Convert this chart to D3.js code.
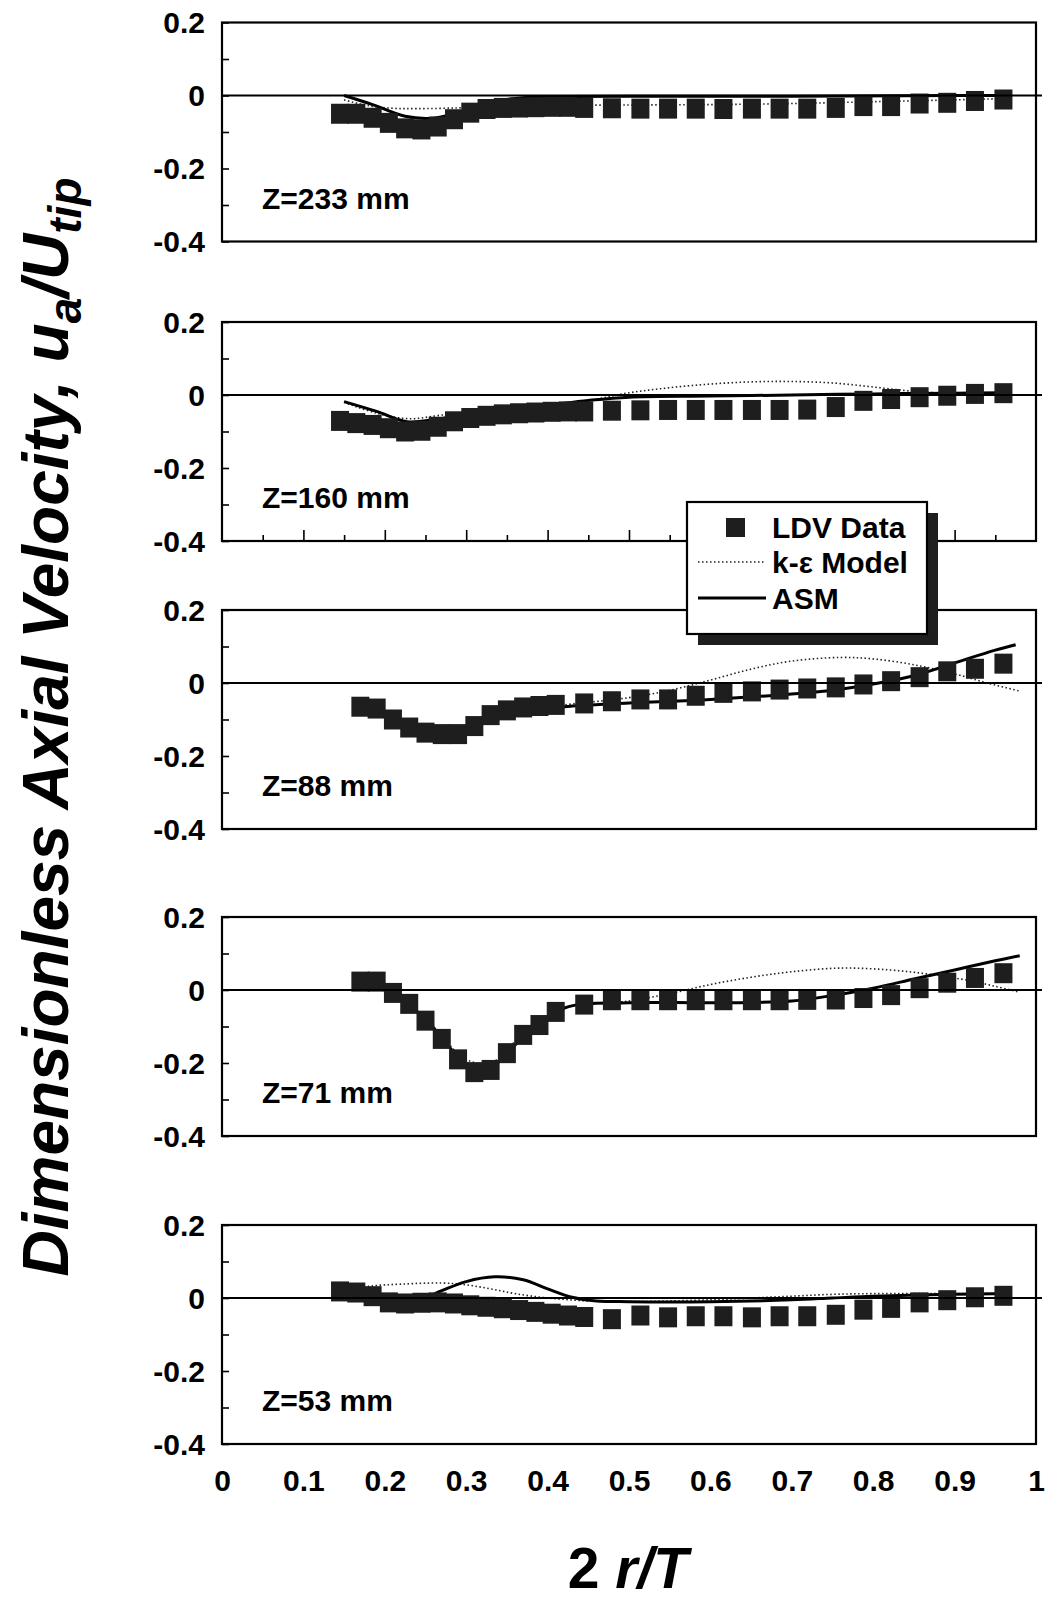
<!DOCTYPE html>
<html><head><meta charset="utf-8">
<script src="https://cdn.jsdelivr.net/npm/d3@7"></script>
<style>html,body{margin:0;padding:0;background:#fff;}svg{display:block;}</style>
</head><body><div id="chart"></div>
<script>
// ---------- DATA ----------
const panelLabels = ["Z=233 mm","Z=160 mm","Z=88 mm","Z=71 mm","Z=53 mm"];
const yTickLabels = ["0.2","0","-0.2","-0.4"];
const yTickValues = [0.2,0,-0.2,-0.4];
const xTickValues = [0,0.1,0.2,0.3,0.4,0.5,0.6,0.7,0.8,0.9,1];
const xTickLabels = ["0","0.1","0.2","0.3","0.4","0.5","0.6","0.7","0.8","0.9","1"];
const legendLabels = ["LDV Data","k-\u03b5 Model","ASM"];

// radial positions of LDV points
const xInnerA = [0.145,0.165,0.185,0.205,0.225,0.245,0.265,0.285,0.305,0.325,0.345,0.365,0.385,0.405,0.425];
const xInnerB = [0.17,0.19,0.21,0.23,0.25,0.27,0.29,0.31,0.33,0.35,0.37,0.39,0.41];
const xOuter  = [0.445,0.479,0.514,0.548,0.582,0.616,0.651,0.685,0.719,0.754,0.788,0.822,0.857,0.891,0.925,0.96];

// LDV data per panel
const ldv233 = [-0.05,-0.05,-0.061,-0.075,-0.09,-0.093,-0.085,-0.065,-0.047,-0.037,-0.034,-0.033,-0.032,-0.031,-0.031,
                -0.034,-0.035,-0.036,-0.036,-0.036,-0.037,-0.036,-0.036,-0.036,-0.034,-0.029,-0.029,-0.022,-0.02,-0.015,-0.011];
const ldv160 = [-0.071,-0.077,-0.082,-0.091,-0.1,-0.098,-0.087,-0.072,-0.063,-0.057,-0.053,-0.05,-0.048,-0.046,-0.045,
                -0.045,-0.043,-0.042,-0.041,-0.041,-0.041,-0.041,-0.041,-0.04,-0.033,-0.016,-0.011,-0.006,-0.002,0.003,0.005];
const ldv88  = [-0.065,-0.07,-0.1,-0.122,-0.136,-0.14,-0.14,-0.118,-0.088,-0.075,-0.067,-0.063,-0.06,
                -0.056,-0.05,-0.045,-0.045,-0.035,-0.027,-0.023,-0.018,-0.015,-0.012,-0.004,0.005,0.016,0.032,0.039,0.053];
const ldv71  = [0.023,0.023,-0.008,-0.038,-0.084,-0.134,-0.19,-0.225,-0.219,-0.173,-0.123,-0.096,-0.06,
                -0.04,-0.028,-0.028,-0.028,-0.028,-0.028,-0.028,-0.028,-0.027,-0.026,-0.022,-0.014,0.005,0.02,0.033,0.046];
const ldv53  = [0.018,0.015,0.005,-0.012,-0.015,-0.013,-0.012,-0.015,-0.02,-0.024,-0.028,-0.033,-0.038,-0.043,-0.048,
                -0.052,-0.058,-0.048,-0.053,-0.05,-0.05,-0.053,-0.05,-0.05,-0.046,-0.032,-0.027,-0.012,-0.006,0.002,0.006];

// k-epsilon model curves
const keX233 = [0.15,0.18,0.21,0.24,0.29,0.33,0.4,0.5,0.6,0.7,0.8,0.9,0.97];
const keY233 = [-0.012,-0.028,-0.035,-0.036,-0.034,-0.03,-0.027,-0.026,-0.025,-0.022,-0.017,-0.012,-0.008];
const keX160 = [0.15,0.19,0.23,0.27,0.32,0.4,0.45,0.5,0.55,0.6,0.65,0.7,0.75,0.8,0.85,0.9,0.96];
const keY160 = [-0.02,-0.05,-0.065,-0.055,-0.045,-0.03,-0.015,0.006,0.02,0.03,0.036,0.037,0.033,0.022,0.01,0.004,0.002];
const keX88  = [0.17,0.25,0.3,0.35,0.42,0.5,0.55,0.6,0.65,0.7,0.76,0.8,0.85,0.9,0.94,0.98];
const keY88  = [-0.06,-0.12,-0.12,-0.08,-0.06,-0.04,-0.02,0.008,0.038,0.06,0.07,0.066,0.05,0.025,0.0,-0.022];
const keX71  = [0.17,0.2,0.25,0.3,0.33,0.37,0.42,0.5,0.55,0.6,0.65,0.7,0.76,0.82,0.87,0.92,0.95,0.98];
const keY71  = [0.02,0.0,-0.08,-0.19,-0.2,-0.12,-0.05,-0.03,-0.01,0.015,0.035,0.05,0.06,0.055,0.043,0.025,0.01,-0.006];
const keX53  = [0.15,0.18,0.22,0.27,0.3,0.33,0.36,0.4,0.45,0.5,0.55,0.6,0.65,0.7,0.75,0.8,0.9,0.96];
const keY53  = [0.02,0.032,0.038,0.041,0.036,0.025,0.012,0.0,-0.008,-0.01,-0.008,-0.005,0.0,0.005,0.01,0.012,0.012,0.012];

// ASM model curves
const asmX233 = [0.15,0.185,0.225,0.26,0.3,0.33,0.37,0.42,0.5,0.7,0.9,0.97];
const asmY233 = [0.0,-0.025,-0.057,-0.062,-0.04,-0.018,-0.006,-0.003,-0.002,-0.002,0.0,0.0];
const asmX160 = [0.15,0.19,0.227,0.26,0.3,0.35,0.4,0.45,0.5,0.6,0.7,0.8,0.9,0.96];
const asmY160 = [-0.018,-0.045,-0.073,-0.068,-0.052,-0.04,-0.028,-0.015,-0.006,-0.003,0.0,0.003,0.005,0.006];
const asmX88  = [0.17,0.22,0.27,0.31,0.35,0.42,0.5,0.6,0.7,0.75,0.8,0.85,0.9,0.95,0.975];
const asmY88  = [-0.06,-0.1,-0.13,-0.12,-0.085,-0.065,-0.055,-0.045,-0.03,-0.02,-0.003,0.02,0.055,0.09,0.105];
const asmX71  = [0.17,0.21,0.25,0.3,0.33,0.37,0.42,0.5,0.6,0.7,0.75,0.8,0.85,0.9,0.95,0.98];
const asmY71  = [0.02,-0.01,-0.08,-0.2,-0.21,-0.13,-0.05,-0.035,-0.035,-0.03,-0.015,0.005,0.03,0.055,0.08,0.094];
const asmX53  = [0.145,0.2,0.24,0.27,0.3,0.335,0.37,0.4,0.43,0.46,0.5,0.6,0.7,0.75,0.8,0.9,0.97];
const asmY53  = [0.005,-0.012,-0.008,0.02,0.045,0.058,0.05,0.025,0.002,-0.008,-0.01,-0.01,-0.005,0.0,0.005,0.01,0.012];

// ---------- BUILD ----------
const W = 1051, H = 1604;
const FONT = "'Liberation Sans', Arial, sans-serif";
const panelTops = [22.5, 322, 610, 917, 1225];
const panelH = 219;
const x = d3.scaleLinear().domain([0,1]).range([222,1036]);

const panels = [
  {label: panelLabels[0], ldvX: xInnerA.concat(xOuter), ldvY: ldv233, keX: keX233, keY: keY233, asmX: asmX233, asmY: asmY233},
  {label: panelLabels[1], ldvX: xInnerA.concat(xOuter), ldvY: ldv160, keX: keX160, keY: keY160, asmX: asmX160, asmY: asmY160},
  {label: panelLabels[2], ldvX: xInnerB.concat(xOuter), ldvY: ldv88,  keX: keX88,  keY: keY88,  asmX: asmX88,  asmY: asmY88},
  {label: panelLabels[3], ldvX: xInnerB.concat(xOuter), ldvY: ldv71,  keX: keX71,  keY: keY71,  asmX: asmX71,  asmY: asmY71},
  {label: panelLabels[4], ldvX: xInnerA.concat(xOuter), ldvY: ldv53,  keX: keX53,  keY: keY53,  asmX: asmX53,  asmY: asmY53}
];

const svg = d3.select("#chart").append("svg").attr("width", W).attr("height", H)
  .style("font-family", FONT);
svg.append("rect").attr("width", W).attr("height", H).attr("fill", "#fff");

const SQW = 18, SQH = 20;

panels.forEach((p, i) => {
  const top = panelTops[i];
  const y = d3.scaleLinear().domain([-0.4, 0.2]).range([top + panelH, top]);
  const g = svg.append("g");

  const line = d3.line().x(d => x(d[0])).y(d => y(d[1])).curve(d3.curveCatmullRom.alpha(0.5));
  // k-e model (dotted)
  g.append("path").datum(p.keX.map((v, k) => [v, p.keY[k]]))
    .attr("d", line).attr("fill", "none").attr("stroke", "#222")
    .attr("stroke-width", 1.6).attr("stroke-dasharray", "1.5,2.5");
  // ASM (solid)
  g.append("path").datum(p.asmX.map((v, k) => [v, p.asmY[k]]))
    .attr("d", line).attr("fill", "none").attr("stroke", "#000").attr("stroke-width", 3);

  // LDV squares
  const pts = p.ldvX.map((v, k) => [v, p.ldvY[k]]);
  g.selectAll("rect.sq").data(pts).enter().append("rect")
    .attr("x", d => x(d[0]) - SQW/2).attr("y", d => y(d[1]) - SQH/2)
    .attr("width", SQW).attr("height", SQH).attr("fill", "#1e1e1e");

  // zero line
  g.append("line").attr("x1", x(0)).attr("x2", x(1) + 6)
    .attr("y1", y(0)).attr("y2", y(0)).attr("stroke", "#000").attr("stroke-width", 2.2);

  // frame
  g.append("rect").attr("x", x(0)).attr("y", top).attr("width", x(1) - x(0)).attr("height", panelH)
    .attr("fill", "none").attr("stroke", "#000").attr("stroke-width", 2.2);

  // y axis ticks (inside) and labels
  const yAxis = d3.axisRight(y).tickValues(d3.range(-0.4, 0.21, 0.1)).tickSize(7).tickFormat("");
  const ya = g.append("g").attr("transform", `translate(${x(0)},0)`).call(yAxis);
  ya.select(".domain").remove();
  ya.selectAll("line").attr("stroke", "#000").attr("stroke-width", 1.6);

  g.selectAll("text.yl").data(yTickValues).enter().append("text")
    .attr("x", 205).attr("y", d => y(d)).attr("dy", "0.36em")
    .attr("text-anchor", "end").attr("font-size", 30).attr("font-weight", "bold")
    .text((d, k) => yTickLabels[k]);

  // panel label
  g.append("text").attr("x", 262).attr("y", y(0) + 113)
    .attr("font-size", 30).attr("font-weight", "bold").text(p.label);

  // x ticks on bottom of panel 2 (as in reference)
  if (i === 1) {
    const xAxis = d3.axisTop(x).tickValues(d3.range(0.05, 1.0, 0.05)).tickSize(0).tickFormat("");
    const xa = g.append("g").attr("transform", `translate(0,${top + panelH})`).call(xAxis);
    xa.select(".domain").remove();
    xa.selectAll(".tick line").attr("y2", (d) => (Math.round(d * 20) % 2 === 0) ? -11 : -6)
      .attr("stroke", "#000").attr("stroke-width", 1.6);
  }
  if (i === 4) {
    const xAxis = d3.axisBottom(x).tickValues(xTickValues).tickSize(0)
      .tickFormat((d, k) => xTickLabels[k]).tickPadding(26);
    const xa = g.append("g").attr("transform", `translate(0,${top + panelH})`).call(xAxis);
    xa.select(".domain").remove();
    xa.selectAll("text").attr("font-size", 30).attr("font-weight", "bold")
      .attr("font-family", FONT).attr("fill", "#000");
  }
});

// legend
const lg = svg.append("g");
const lx = 687, ly = 502, lw = 240, lh = 132;
lg.append("rect").attr("x", lx + 11).attr("y", ly + 11).attr("width", lw).attr("height", lh).attr("fill", "#1e1e1e");
lg.append("rect").attr("x", lx).attr("y", ly).attr("width", lw).attr("height", lh)
  .attr("fill", "#fff").attr("stroke", "#000").attr("stroke-width", 2.2);
lg.append("rect").attr("x", 726).attr("y", 518).attr("width", 19).attr("height", 19).attr("fill", "#1e1e1e");
lg.append("line").attr("x1", 698).attr("x2", 766).attr("y1", 562).attr("y2", 562)
  .attr("stroke", "#222").attr("stroke-width", 1.6).attr("stroke-dasharray", "1.5,2.5");
lg.append("line").attr("x1", 698).attr("x2", 766).attr("y1", 598).attr("y2", 598)
  .attr("stroke", "#000").attr("stroke-width", 3);
const legY = [538, 573, 609];
legendLabels.forEach((t, k) => {
  lg.append("text").attr("x", 772).attr("y", legY[k]).attr("font-size", 30)
    .attr("font-weight", "bold").text(t);
});

// axis titles
const yt = svg.append("text").attr("transform", "translate(68,727) rotate(-90)")
  .attr("text-anchor", "middle").attr("font-size", 64).attr("font-weight", "bold")
  .attr("font-style", "italic");
yt.append("tspan").text("Dimensionless Axial Velocity, u");
yt.append("tspan").attr("font-size", 46).attr("dy", 13).text("a");
yt.append("tspan").attr("dy", -13).text("/U");
yt.append("tspan").attr("font-size", 46).attr("dy", 13).text("tip");

const xt = svg.append("text").attr("x", 628).attr("y", 1588).attr("text-anchor", "middle")
  .attr("font-size", 57).attr("font-weight", "bold");
xt.append("tspan").text("2 ");
xt.append("tspan").attr("font-style", "italic").text("r/T");
</script></body></html>
